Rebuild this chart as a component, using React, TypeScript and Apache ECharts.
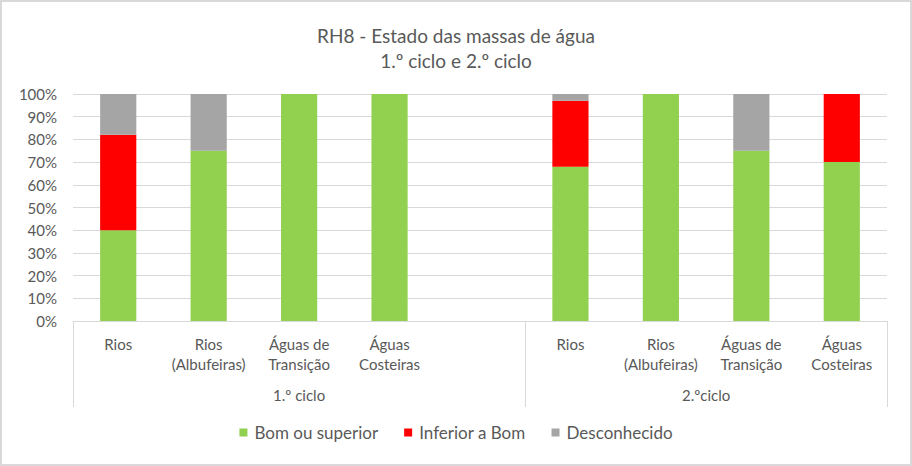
import React, { useEffect, useRef } from "react";
import * as echarts from "echarts";

const categories = [
  "Rios",
  "Rios\n(Albufeiras)",
  "Águas de\nTransição",
  "Águas\nCosteiras",
  "",
  "Rios",
  "Rios\n(Albufeiras)",
  "Águas de\nTransição",
  "Águas\nCosteiras",
];
const bomOuSuperior = [40, 75, 100, 100, null, 68, 100, 75, 70];
const inferiorABom = [42, 0, 0, 0, null, 29, 0, 0, 30];
const desconhecido = [18, 25, 0, 0, null, 3, 0, 25, 0];
const cycleLabels = ["1.º ciclo", "2.ºciclo"];
const cycleCenters = [2.5, 7];
const cycleBounds = [0, 5, 9];
const yTicks = [0, 10, 20, 30, 40, 50, 60, 70, 80, 90, 100];

const FONT = "Lato";
const TXT = "#595959";

export default function App() {
  const ref = useRef<HTMLDivElement>(null);
  useEffect(() => {
    const chart = echarts.init(ref.current!, null, { renderer: "svg" });
    const barCommon = {
      type: "bar",
      stack: "total",
      barWidth: "40%",
      xAxisIndex: 0,
      yAxisIndex: 0,
    };
    chart.setOption({
      animation: false,
      textStyle: { fontFamily: FONT, color: TXT },
      title: {
        text: "RH8 - Estado das massas de água\n1.º ciclo e 2.º ciclo",
        left: "center",
        top: 18,
        textStyle: {
          fontFamily: FONT,
          fontSize: 19,
          fontWeight: "normal",
          color: TXT,
          lineHeight: 25,
        },
      },
      legend: {
        bottom: 20,
        left: "center",
        itemWidth: 8,
        itemHeight: 8,
        itemGap: 26,
        icon: "rect",
        textStyle: { fontFamily: FONT, fontSize: 17, color: TXT, padding: [0, 0, 0, 2] },
        data: ["Bom ou superior", "Inferior a Bom", "Desconhecido"],
      },
      grid: { left: 73, right: 25, top: 94, bottom: 145 },
      xAxis: [
        {
          type: "category",
          data: categories,
          axisLine: { show: true, lineStyle: { color: "#d9d9d9" } },
          axisTick: { show: false },
          axisLabel: {
            interval: 0,
            margin: 13,
            fontFamily: FONT,
            fontSize: 15,
            color: TXT,
            lineHeight: 20,
          },
        },
        {
          type: "value",
          position: "bottom",
          min: 0,
          max: 9,
          axisLine: { show: false },
          splitLine: { show: false },
          axisTick: {
            show: true,
            customValues: cycleBounds,
            length: 86,
            lineStyle: { color: "#d9d9d9" },
          },
          axisLabel: {
            show: true,
            customValues: cycleCenters,
            margin: 66,
            fontFamily: FONT,
            fontSize: 15,
            color: TXT,
            formatter: (v: number) => {
              const i = cycleCenters.indexOf(v);
              return i >= 0 ? cycleLabels[i] : "";
            },
          },
        },
      ],
      yAxis: {
        type: "value",
        min: 0,
        max: 100,
        interval: 10,
        axisLine: { show: false },
        axisTick: { show: false },
        splitLine: { lineStyle: { color: "#d9d9d9" } },
        axisLabel: {
          margin: 16,
          fontFamily: FONT,
          fontSize: 15,
          color: TXT,
          formatter: (v: number) => (yTicks.includes(v) ? v + "%" : ""),
        },
      },
      graphic: [
        {
          type: "rect",
          shape: { x: 1, y: 1, width: 910, height: 464 },
          style: { fill: "none", stroke: "#d9d9d9", lineWidth: 2 },
          silent: true,
        },
      ],
      series: [
        {
          ...barCommon,
          name: "Bom ou superior",
          data: bomOuSuperior,
          itemStyle: { color: "#92d050" },
        },
        {
          ...barCommon,
          name: "Inferior a Bom",
          data: inferiorABom,
          itemStyle: { color: "#ff0000" },
        },
        {
          ...barCommon,
          name: "Desconhecido",
          data: desconhecido,
          itemStyle: { color: "#a5a5a5" },
        },
      ],
    });
    return () => chart.dispose();
  }, []);
  return (
    <div
      ref={ref}
      style={{ position: "absolute", left: 0, top: 0, width: 912, height: 466, background: "#fff" }}
    />
  );
}
